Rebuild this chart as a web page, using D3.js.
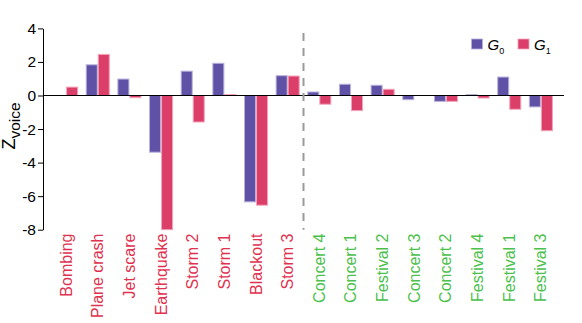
<!DOCTYPE html>
<html>
<head>
<meta charset="utf-8">
<script src="https://cdn.jsdelivr.net/npm/d3@7"></script>
<style>
  body { margin: 0; background: #fff; }
  text { font-family: "Liberation Sans", Arial, Helvetica, sans-serif; }
</style>
</head>
<body>
<div class="canvas"></div>
<script>
// data
const categories = ['Bombing', 'Plane crash', 'Jet scare', 'Earthquake', 'Storm 2', 'Storm 1', 'Blackout', 'Storm 3',
                    'Concert 4', 'Concert 1', 'Festival 2', 'Concert 3', 'Concert 2', 'Festival 4', 'Festival 1', 'Festival 3'];
const groupOf = ['neg', 'neg', 'neg', 'neg', 'neg', 'neg', 'neg', 'neg',
                 'pos', 'pos', 'pos', 'pos', 'pos', 'pos', 'pos', 'pos'];
const g0Values = [0.0, 1.83, 0.98, -3.38, 1.45, 1.92, -6.34, 1.18,
                  0.21, 0.67, 0.61, -0.25, -0.35, 0.06, 1.1, -0.68];
const g1Values = [0.5, 2.45, -0.13, -8.0, -1.58, 0.06, -6.54, 1.16,
                  -0.52, -0.9, 0.37, 0.0, -0.35, -0.15, -0.82, -2.1];
const seriesNames = ['G0', 'G1'];
const yTicks = [4, 2, 0, -2, -4, -6, -8];

// style props
const prop = {
    width: 582, height: 323,
    left: 43, right: 564, top: 28.4, bottom: 229.7,
    colors: ['#5f51a5', '#db3e69'],
    strokes: ['#b9b1dc', '#f3a3ba'],
    labelColors: { neg: '#e0324f', pos: '#4cc04c' }
};

const svg = d3.select('.canvas').append('svg')
    .attr('width', prop.width)
    .attr('height', prop.height);

const x = d3.scaleBand()
    .domain(categories)
    .range([prop.left, prop.right])
    .paddingInner(0.24)
    .paddingOuter(0.35);

const xs = d3.scaleBand()
    .domain(seriesNames)
    .range([0, x.bandwidth()]);

const y = d3.scaleLinear()
    .domain([-8, 4])
    .range([prop.bottom, prop.top]);

// y axis
const yAxis = d3.axisLeft(y).tickValues(yTicks).tickSize(5).tickSizeOuter(0);
const yAxisGroup = svg.append('g')
    .attr('transform', `translate(${prop.left},0)`)
    .call(yAxis);
yAxisGroup.select('.domain').attr('stroke', '#000');
yAxisGroup.selectAll('.tick line').attr('stroke', '#000');
yAxisGroup.selectAll('.tick text')
    .attr('font-size', 15.5)
    .attr('fill', '#000')
    .attr('x', -7)
    .text(d => d);

// bars
const rows = categories.map((c, i) => ({ cat: c, vals: [g0Values[i], g1Values[i]] }));
const barGroups = svg.append('g').selectAll('g')
    .data(rows)
    .enter().append('g')
    .attr('transform', d => `translate(${x(d.cat)},0)`);

barGroups.selectAll('rect')
    .data(d => d.vals.map((v, k) => ({ v, k })))
    .enter().append('rect')
    .attr('x', d => xs(seriesNames[d.k]) + 0.5)
    .attr('width', xs.bandwidth() - 1)
    .attr('y', d => y(Math.max(0, d.v)))
    .attr('height', d => Math.abs(y(d.v) - y(0)))
    .attr('fill', d => prop.colors[d.k])
    .attr('stroke', d => prop.strokes[d.k])
    .attr('stroke-width', 1);

// zero line
svg.append('line')
    .attr('x1', prop.left).attr('x2', prop.right)
    .attr('y1', y(0)).attr('y2', y(0))
    .attr('stroke', '#000').attr('stroke-width', 1);

// dashed separator between the two groups
const sepX = (x(categories[7]) + x.bandwidth() + x(categories[8])) / 2;
svg.append('line')
    .attr('x1', sepX).attr('x2', sepX)
    .attr('y1', 33).attr('y2', y(-8))
    .attr('stroke', '#9a9a9a')
    .attr('stroke-width', 2)
    .attr('stroke-dasharray', '8,7');

// category labels
svg.append('g').selectAll('text')
    .data(categories)
    .enter().append('text')
    .attr('transform', d => `translate(${x(d) + x.bandwidth() / 2 + 5.5},233.5) rotate(-90)`)
    .attr('text-anchor', 'end')
    .attr('font-size', 16)
    .attr('fill', (d, i) => prop.labelColors[groupOf[i]])
    .text(d => d);

// y axis title
const yTitle = svg.append('text')
    .attr('transform', 'translate(15,126) rotate(-90)')
    .attr('text-anchor', 'middle')
    .attr('font-size', 18);
yTitle.append('tspan').text('Z');
yTitle.append('tspan').attr('font-size', 15.5).attr('dy', 4.5).text('voice');

// legend
const legend = svg.append('g');
const legendX = [471.5, 518];
seriesNames.forEach((s, k) => {
    legend.append('rect')
        .attr('x', legendX[k]).attr('y', 39)
        .attr('width', 11).attr('height', 10)
        .attr('fill', prop.colors[k])
        .attr('stroke', prop.strokes[k]).attr('stroke-width', 0.8);
    const t = legend.append('text')
        .attr('x', legendX[k] + 16).attr('y', 50)
        .attr('font-size', 15).attr('font-style', 'italic');
    t.append('tspan').text('G');
    t.append('tspan').attr('font-size', 9).attr('font-style', 'normal').attr('dy', 3.5).text(s.slice(1));
});
</script>
</body>
</html>
